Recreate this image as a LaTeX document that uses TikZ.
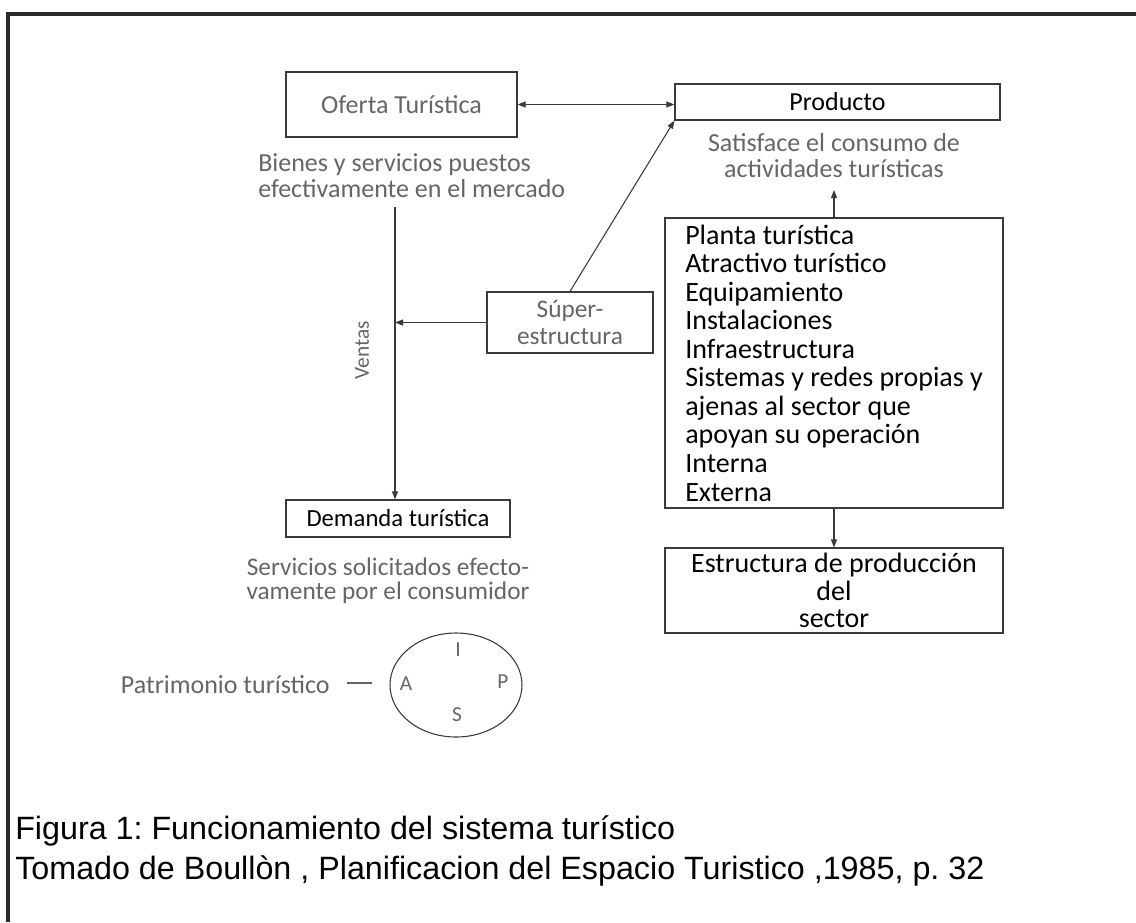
\documentclass[tikz,border=0pt]{standalone}
\usepackage{fontspec}
\setmainfont{Carlito}
\newfontfamily\arialf{Liberation Sans}
\usetikzlibrary{arrows.meta,shapes.geometric}
\frenchspacing
\definecolor{lineclr}{HTML}{3A3A3A}
\definecolor{graytxt}{HTML}{666666}
\definecolor{frameclr}{HTML}{2A2A2A}
\tikzset{
  box/.style={draw=lineclr, line width=0.9pt, inner sep=0pt, fill=white},
  graytext/.style={text=graytxt, font=\fontsize{19.5}{19.5}\selectfont, inner sep=0pt, align=center},
  darktext/.style={text=black, font=\fontsize{21}{21.4}\selectfont, inner sep=0pt},
  conn/.style={draw=lineclr, line width=0.8pt, -{Triangle[length=6pt,width=4.5pt]}},
  dconn/.style={draw=lineclr, line width=0.8pt, {Triangle[length=6pt,width=4.5pt]}-{Triangle[length=6pt,width=4.5pt]}},
  captext/.style={text=black, font=\arialf\fontsize{24.2}{24}\selectfont, inner sep=0pt, anchor=west},
  letter/.style={text=graytxt, font=\fontsize{16}{16}\selectfont, inner sep=0pt}
}
\begin{document}
\begin{tikzpicture}[x=0.75pt,y=-0.75pt]
\useasboundingbox (0,0) rectangle (1136,922);
\fill[white] (0,0) rectangle (1136,922);
% frame (scan border: top and left)
\draw[frameclr, line width=2.4pt] (8,922) -- (8,14) -- (1136,14);

% boxes
\node[box, minimum width=173.25pt, minimum height=48.75pt] (oferta) at (401.5,104.5) {};
\node[graytext] (ofertat) at (oferta.center) {Oferta Turística};
\node[box, minimum width=243.75pt, minimum height=27pt] (producto) at (837.5,102) {};
\node[darktext, font=\fontsize{19.5}{20}\selectfont] (productot) at (producto.center) {Producto};
\node[box, minimum width=124.5pt, minimum height=45.75pt] (super) at (570,322.5) {};
\node[graytext, font=\fontsize{19}{20.5}\selectfont] (supert) at (super.center) {Súper-\\estructura};
\node[box, minimum width=253.5pt, minimum height=217.5pt] (planta) at (834,363) {};
\node[darktext, align=left, anchor=west] (plantat) at (685,363) {Planta turística\\Atractivo turístico\\Equipamiento\\Instalaciones\\Infraestructura\\Sistemas y redes propias y\\ajenas al sector que\\apoyan su operación\\Interna\\Externa};
\node[box, minimum width=253.5pt, minimum height=63.75pt] (estructura) at (834,590.5) {};
\node[darktext, align=center, font=\fontsize{21}{20.6}\selectfont] (estructurat) at (estructura.center) {Estructura de producción\\del\\sector};
\node[box, minimum width=168pt, minimum height=27.75pt] (demanda) at (398,518.5) {};
\node[darktext, font=\fontsize{18.5}{19}\selectfont] (demandat) at (demanda.center) {Demanda turística};

% descriptive texts
\node[graytext, align=left, anchor=west] (bienes) at (258,176) {Bienes y servicios puestos\\efectivamente en el mercado};
\node[graytext] (satisface) at (834,156) {Satisface el consumo de\\actividades turísticas};
\node[graytext, font=\fontsize{19}{18}\selectfont] (servicios) at (388,581) {Servicios solicitados efecto-\\vamente por el consumidor};
\node[graytext, rotate=90, font=\fontsize{16}{17}\selectfont] (ventas) at (362,350) {Ventas};

% connectors
\coordinate (vtop) at (395,207);
\coordinate (pup) at (834,190);
\draw[dconn] (oferta.east) -- (oferta.east -| producto.west);
\draw[conn] (vtop) -- (vtop |- demanda.north);
\draw[conn] (super.west) -- (super.west -| vtop);
\draw[conn] (super.north) -- (producto.south west);
\draw[conn] (planta.north) -- (pup);
\draw[conn] (planta.south) -- (estructura.north);

% patrimonio
\node[graytext, anchor=east] (patrimonio) at (330,685) {Patrimonio turístico};
\coordinate (dash1) at (347,683);
\coordinate (dash2) at (372,683);
\draw[graytxt, line width=1.6pt] (dash1) -- (dash2);
\node[draw=lineclr, line width=0.8pt, ellipse, minimum width=99pt, minimum height=78pt, inner sep=0pt] (elip) at (456,685) {};
\node[letter] (li) at (458,650) {I};
\node[letter] (la) at (406,684) {A};
\node[letter] (lp) at (503,682) {P};
\node[letter] (ls) at (457,715) {S};

% caption
\node[captext] (cap1) at (15,831) {Figura 1: Funcionamiento del sistema turístico};
\node[captext] (cap2) at (15,871) {Tomado de Boullòn , Planificacion del Espacio Turistico ,1985, p. 32};
\end{tikzpicture}
\end{document}
